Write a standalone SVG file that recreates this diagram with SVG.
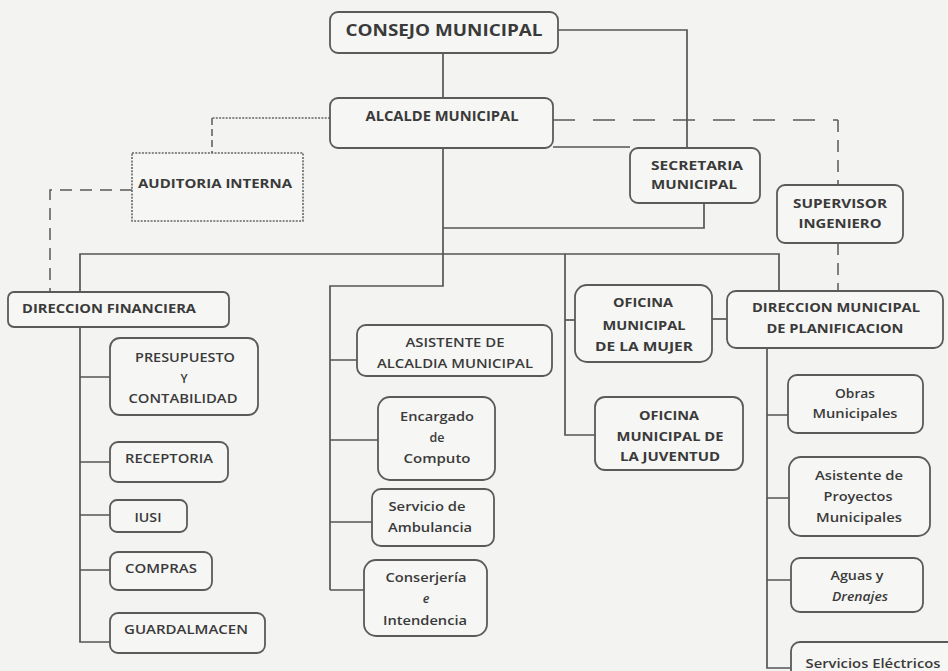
<svg xmlns="http://www.w3.org/2000/svg" width="948" height="671" viewBox="0 0 948 671">
<style>
.bg{fill:#f3f3f1}
.box{fill:#f6f6f4;stroke:#5a5a5a;stroke-width:1.8}
.ln{fill:none;stroke:#555;stroke-width:1.7}
.dash{fill:none;stroke:#5a5a5a;stroke-width:1.7;stroke-dasharray:22 18}
.dash2{fill:none;stroke:#5a5a5a;stroke-width:1.5;stroke-dasharray:12 8}
.dot{fill:none;stroke:#666;stroke-width:1.6;stroke-dasharray:2 1.3}
text{font-family:"Open Sans","Liberation Sans",sans-serif;fill:#3a3a3a;text-anchor:middle}
.b{font-weight:700}
.s{font-weight:600}
</style>
<rect class="bg" x="0" y="0" width="948" height="671"/>
<g id="connectors">
<path class="ln" d="M558,30 H687 V148"/>
<path class="ln" d="M443,53 V98"/>
<path class="ln" d="M553,147 H630"/>
<path class="ln" d="M443,148 V286 H330 V590"/>
<path class="ln" d="M704,203 V228 H443"/>
<path class="ln" d="M80,292 V254 H779 V291"/>
<path class="ln" d="M565,254 V435 H595"/>
<path class="ln" d="M565,320 H575"/>
<path class="ln" d="M712,319 H727"/>
<path class="ln" d="M80,327 V642 H110"/>
<path class="ln" d="M80,377 H110 M80,462 H110 M80,515 H110 M80,570 H110"/>
<path class="ln" d="M330,360 H357 M330,440 H378 M330,522 H372 M330,590 H364"/>
<path class="ln" d="M767,348 V668 H791"/>
<path class="ln" d="M767,415 H788 M767,498 H789 M767,580 H791"/>
<path class="dash" d="M553,120 H838"/>
<path class="dash2" d="M838,120 V185"/>
<path class="dash2" d="M838,243 V291"/>
<path class="dash2" d="M132,190 H50 V292"/>
<path class="dot" d="M330,118 H212"/>
<path class="dash2" d="M212,118 V153" style="stroke-dasharray:7 4"/>
</g>
<g id="consejo">
<rect class="box" x="330" y="12" width="228" height="41" rx="8"/>
<text class="b" x="444" y="36" font-size="15.5" textLength="197" lengthAdjust="spacingAndGlyphs">CONSEJO MUNICIPAL</text>
</g>
<g id="alcalde">
<rect class="box" x="330" y="98" width="223" height="50" rx="8"/>
<text class="b" x="442" y="121" font-size="13.5" textLength="153" lengthAdjust="spacingAndGlyphs">ALCALDE MUNICIPAL</text>
</g>
<g id="auditoria">
<rect x="132" y="153" width="171" height="68" fill="#f6f6f4" stroke="#666" stroke-width="1.6" stroke-dasharray="2 1.3"/>
<text class="b" x="215" y="188" font-size="12.5" textLength="154" lengthAdjust="spacingAndGlyphs">AUDITORIA INTERNA</text>
</g>
<g id="secretaria">
<rect class="box" x="630" y="148" width="130" height="55" rx="8"/>
<text class="b" x="697" y="170" font-size="11.5" textLength="92" lengthAdjust="spacingAndGlyphs">SECRETARIA</text>
<text class="b" x="694" y="189" font-size="11.5" textLength="86" lengthAdjust="spacingAndGlyphs">MUNICIPAL</text>
</g>
<g id="supervisor">
<rect class="box" x="777" y="185" width="126" height="58" rx="8"/>
<text class="b" x="840" y="208" font-size="11.5" textLength="94" lengthAdjust="spacingAndGlyphs">SUPERVISOR</text>
<text class="b" x="840" y="228" font-size="11.5" textLength="83" lengthAdjust="spacingAndGlyphs">INGENIERO</text>
</g>
<g id="dir-financiera">
<rect class="box" x="8" y="292" width="221" height="35" rx="6"/>
<text class="b" x="109" y="313" font-size="12" textLength="174" lengthAdjust="spacingAndGlyphs">DIRECCION FINANCIERA</text>
</g>
<g id="presupuesto">
<rect class="box" x="110" y="338" width="148" height="77" rx="10"/>
<text class="s" x="185" y="362" font-size="12" textLength="100" lengthAdjust="spacingAndGlyphs">PRESUPUESTO</text>
<text class="s" x="184" y="383" font-size="12">Y</text>
<text class="s" x="183" y="403" font-size="12" textLength="109" lengthAdjust="spacingAndGlyphs">CONTABILIDAD</text>
</g>
<g id="receptoria">
<rect class="box" x="110" y="442" width="118" height="40" rx="8"/>
<text class="s" x="169" y="463" font-size="12" textLength="88" lengthAdjust="spacingAndGlyphs">RECEPTORIA</text>
</g>
<g id="iusi">
<rect class="box" x="110" y="500" width="77" height="32" rx="7"/>
<text class="s" x="148" y="522" font-size="12" textLength="27" lengthAdjust="spacingAndGlyphs">IUSI</text>
</g>
<g id="compras">
<rect class="box" x="110" y="552" width="102" height="38" rx="8"/>
<text class="s" x="161" y="573" font-size="12" textLength="72" lengthAdjust="spacingAndGlyphs">COMPRAS</text>
</g>
<g id="guardalmacen">
<rect class="box" x="110" y="613" width="155" height="40" rx="8"/>
<text class="s" x="186" y="634" font-size="12" textLength="124" lengthAdjust="spacingAndGlyphs">GUARDALMACEN</text>
</g>
<g id="asistente-alcaldia">
<rect class="box" x="357" y="325" width="195" height="51" rx="9"/>
<text class="s" x="455" y="347" font-size="12" textLength="99" lengthAdjust="spacingAndGlyphs">ASISTENTE DE</text>
<text class="s" x="455" y="368" font-size="12" textLength="156" lengthAdjust="spacingAndGlyphs">ALCALDIA MUNICIPAL</text>
</g>
<g id="computo">
<rect class="box" x="378" y="397" width="117" height="83" rx="12"/>
<text class="s" x="437" y="421" font-size="12.5" textLength="74" lengthAdjust="spacingAndGlyphs">Encargado</text>
<text class="s" x="437" y="442" font-size="12.5">de</text>
<text class="s" x="437" y="463" font-size="12.5" textLength="67" lengthAdjust="spacingAndGlyphs">Computo</text>
</g>
<g id="ambulancia">
<rect class="box" x="372" y="489" width="122" height="57" rx="9"/>
<text class="s" x="427" y="511" font-size="12.5" textLength="77" lengthAdjust="spacingAndGlyphs">Servicio de</text>
<text class="s" x="430" y="532" font-size="12.5" textLength="84" lengthAdjust="spacingAndGlyphs">Ambulancia</text>
</g>
<g id="conserjeria">
<rect class="box" x="364" y="560" width="123" height="76" rx="12"/>
<text class="s" x="426" y="582" font-size="12.5" textLength="81" lengthAdjust="spacingAndGlyphs">Conserjería</text>
<text class="s" x="426" y="603" font-size="12.5" font-style="italic">e</text>
<text class="s" x="425" y="625" font-size="12.5" textLength="84" lengthAdjust="spacingAndGlyphs">Intendencia</text>
</g>
<g id="oficina-mujer">
<rect class="box" x="575" y="285" width="137" height="77" rx="12"/>
<text class="b" x="643" y="307" font-size="11.5" textLength="60" lengthAdjust="spacingAndGlyphs">OFICINA</text>
<text class="b" x="644" y="330" font-size="11.5" textLength="83" lengthAdjust="spacingAndGlyphs">MUNICIPAL</text>
<text class="b" x="644" y="351" font-size="11.5" textLength="98" lengthAdjust="spacingAndGlyphs">DE LA MUJER</text>
</g>
<g id="oficina-juventud">
<rect class="box" x="595" y="397" width="148" height="73" rx="10"/>
<text class="b" x="669" y="420" font-size="11.5" textLength="60" lengthAdjust="spacingAndGlyphs">OFICINA</text>
<text class="b" x="670" y="441" font-size="11.5" textLength="107" lengthAdjust="spacingAndGlyphs">MUNICIPAL DE</text>
<text class="b" x="670" y="461" font-size="11.5" textLength="100" lengthAdjust="spacingAndGlyphs">LA JUVENTUD</text>
</g>
<g id="dir-planificacion">
<rect class="box" x="727" y="291" width="216" height="57" rx="9"/>
<text class="b" x="836" y="312" font-size="12" textLength="168" lengthAdjust="spacingAndGlyphs">DIRECCION MUNICIPAL</text>
<text class="b" x="835" y="333" font-size="12" textLength="137" lengthAdjust="spacingAndGlyphs">DE PLANIFICACION</text>
</g>
<g id="obras">
<rect class="box" x="788" y="375" width="135" height="58" rx="9"/>
<text class="s" x="855" y="398" font-size="12" textLength="40" lengthAdjust="spacingAndGlyphs">Obras</text>
<text class="s" x="855" y="418" font-size="12" textLength="85" lengthAdjust="spacingAndGlyphs">Municipales</text>
</g>
<g id="asistente-proyectos">
<rect class="box" x="789" y="457" width="141" height="79" rx="12"/>
<text class="s" x="859" y="480" font-size="12" textLength="88" lengthAdjust="spacingAndGlyphs">Asistente de</text>
<text class="s" x="858" y="501" font-size="12" textLength="69" lengthAdjust="spacingAndGlyphs">Proyectos</text>
<text class="s" x="859" y="522" font-size="12" textLength="86" lengthAdjust="spacingAndGlyphs">Municipales</text>
</g>
<g id="aguas">
<rect class="box" x="791" y="558" width="132" height="54" rx="9"/>
<text class="s" x="857" y="580" font-size="12" textLength="53" lengthAdjust="spacingAndGlyphs">Aguas y</text>
<text class="s" x="860" y="601" font-size="12" font-style="italic" textLength="56" lengthAdjust="spacingAndGlyphs">Drenajes</text>
</g>
<g id="electricos">
<rect class="box" x="791" y="642" width="170" height="45" rx="9"/>
<text class="s" x="873" y="668" font-size="12.5" textLength="135" lengthAdjust="spacingAndGlyphs">Servicios Eléctricos</text>
</g>
</svg>
